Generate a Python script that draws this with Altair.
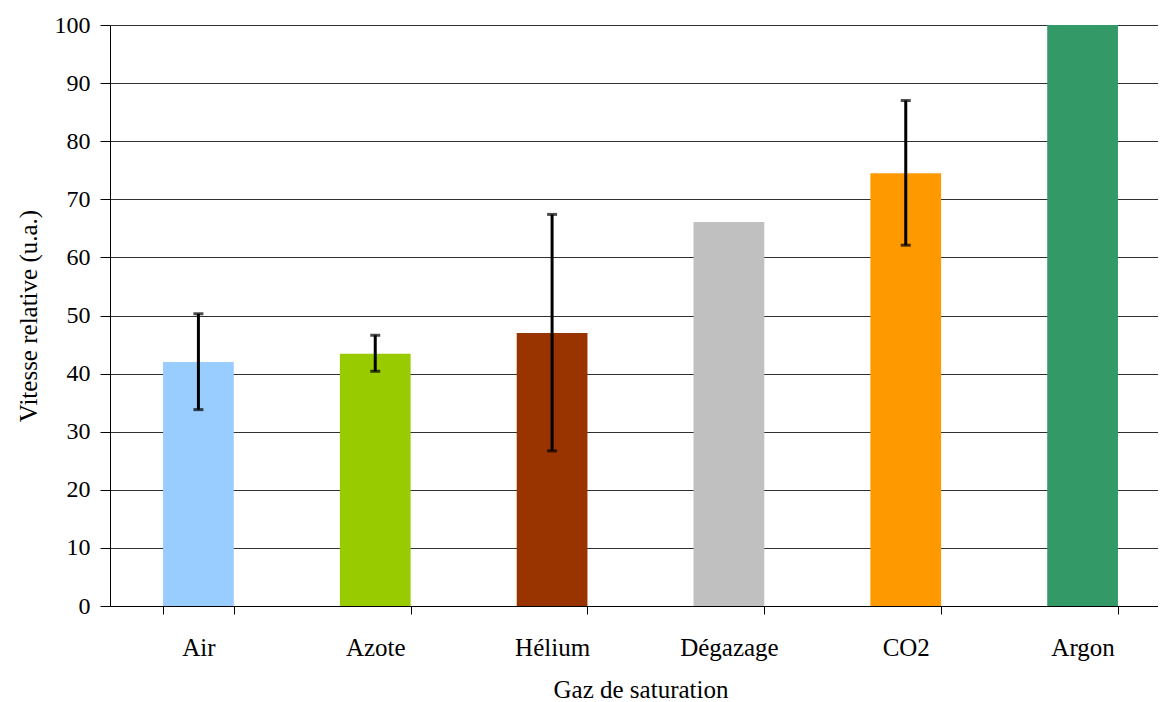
import altair as alt
import pandas as pd

categories = ["Air", "Azote", "Hélium", "Dégazage", "CO2", "Argon"]
values = [42.0, 43.4, 47.0, 66.1, 74.5, 100.0]
err_low = [33.8, 40.4, 26.7, None, 62.1, None]
err_high = [50.3, 46.6, 67.4, None, 87.0, None]
colors = ["#99CCFF", "#99CC00", "#993300", "#C0C0C0", "#FF9900", "#339966"]

df = pd.DataFrame({"cat": categories, "val": values, "lo": err_low, "hi": err_high})
edf = df.dropna()

font = "Liberation Serif"
xenc = alt.X("cat:N", sort=categories, title="Gaz de saturation",
             scale=alt.Scale(paddingInner=0.6, paddingOuter=0.3, range=[0, 1061]),
             axis=alt.Axis(labelAngle=0, tickBand="extent", tickSize=8, labelPadding=21,
                           labelFontSize=25, titleFontSize=25,
                           titlePadding=17, domainColor="black", tickColor="black"))

bars = alt.Chart(df).mark_bar().encode(
    x=xenc,
    y=alt.Y("val:Q", title="Vitesse relative (u.a.)",
            scale=alt.Scale(domain=[0, 100], nice=False),
            axis=alt.Axis(values=list(range(0, 101, 10)), tickSize=10, labelPadding=10,
                          labelFontSize=24, titleFontSize=25,
                          titlePadding=13, grid=True, gridColor="#303030", domainColor="black",
                          tickColor="black")),
    color=alt.Color("cat:N", sort=categories, scale=alt.Scale(domain=categories, range=colors), legend=None),
)

rules = alt.Chart(edf).mark_rule(color="black", strokeWidth=3).encode(
    x=alt.X("cat:N", sort=categories), y="lo:Q", y2="hi:Q")
cap_lo = alt.Chart(edf).mark_tick(color="black", thickness=3, size=10).encode(
    x=alt.X("cat:N", sort=categories), y="lo:Q")
cap_hi = alt.Chart(edf).mark_tick(color="black", thickness=3, size=10).encode(
    x=alt.X("cat:N", sort=categories), y="hi:Q")

chart = alt.layer(bars, rules, cap_lo, cap_hi).properties(
    width=1048, height=581,
    autosize=alt.AutoSizeParams(type="none"),
    padding={"left": 102, "top": 17, "right": 0, "bottom": 96},
).configure_axis(
    labelFont=font, titleFont=font,
    labelColor="black", titleColor="black", titleFontWeight="normal",
).configure_view(stroke=None)

chart.save("out.html", embed_options={"renderer": "svg", "actions": False})
